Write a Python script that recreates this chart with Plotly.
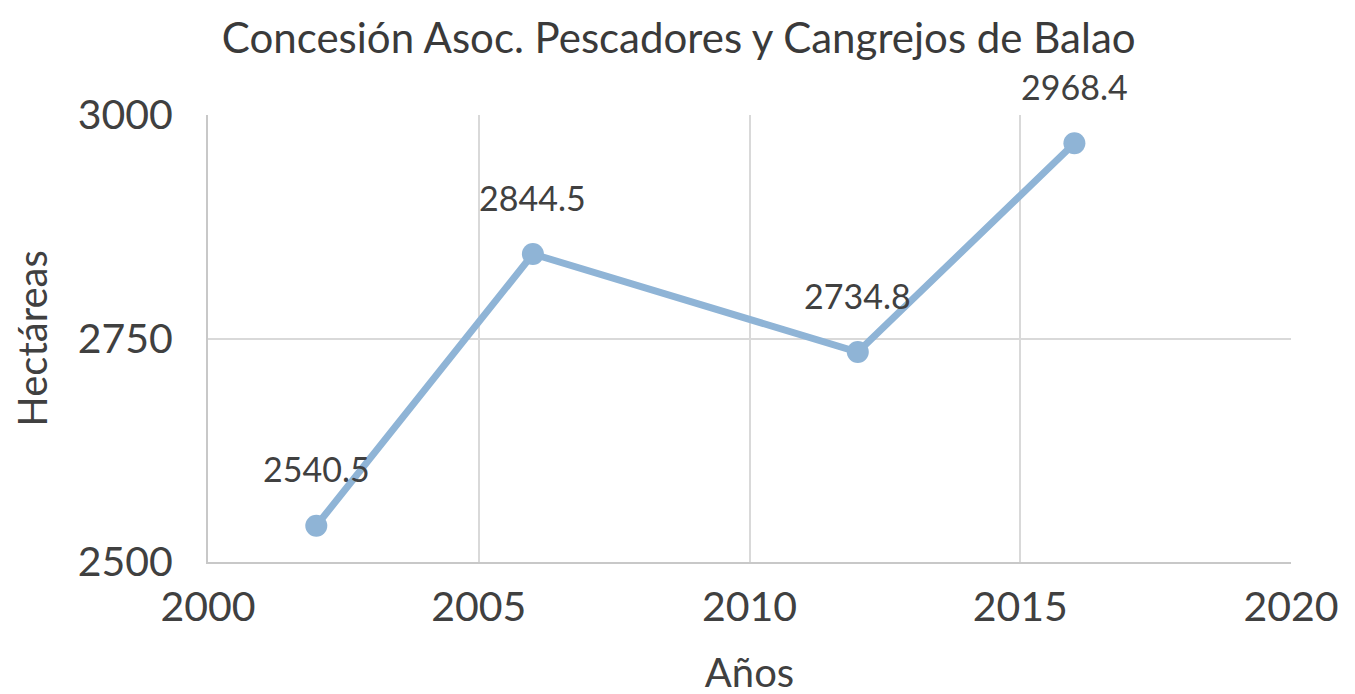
import plotly.graph_objects as go

years = [2002, 2006, 2012, 2016]
hectareas = [2540.5, 2844.5, 2734.8, 2968.4]
labels = ["2540.5", "2844.5", "2734.8", "2968.4"]

FONT = "Lato, 'Open Sans', sans-serif"
TXT = "#404040"
LINE = "#8fb4d6"

fig = go.Figure()
fig.add_trace(go.Scatter(
    x=years, y=hectareas, mode="lines+markers",
    line=dict(color=LINE, width=7),
    marker=dict(color=LINE, size=22),
    showlegend=False, hoverinfo="x+y",
))
for x, y, t in zip(years, hectareas, labels):
    fig.add_annotation(x=x, y=y, text=t, showarrow=False, yshift=57,
                       font=dict(family=FONT, size=34, color=TXT))

fig.update_layout(
    width=1355, height=694,
    paper_bgcolor="white", plot_bgcolor="white",
    margin=dict(l=200, r=72, t=107, b=140),
    font=dict(family=FONT, color=TXT),
    title=dict(text="Concesión Asoc. Pescadores y Cangrejos de Balao",
               x=0.495, xanchor="center", y=0.957, yanchor="middle",
               font=dict(family=FONT, size=42, color="#3a3a3a")),
)
fig.update_xaxes(range=[2000, 2020], tick0=2000, dtick=5,
                 showgrid=True, gridcolor="#d9d9d9", gridwidth=2,
                 showline=True, linecolor="#c8c8c8", linewidth=2,
                 zeroline=False, ticks="", ticklabelstandoff=8,
                 tickfont=dict(family=FONT, size=41, color=TXT),
                 title=dict(text="Años", standoff=30,
                            font=dict(family=FONT, size=40, color=TXT)))
fig.update_yaxes(range=[2500, 3000], tick0=2500, dtick=250,
                 showgrid=True, gridcolor="#d9d9d9", gridwidth=2,
                 showline=True, linecolor="#c8c8c8", linewidth=2,
                 zeroline=False, ticks="", ticklabelstandoff=25,
                 tickfont=dict(family=FONT, size=41, color=TXT),
                 title=dict(text="Hectáreas", standoff=30,
                            font=dict(family=FONT, size=40, color=TXT)))

fig.write_html("out.html")
